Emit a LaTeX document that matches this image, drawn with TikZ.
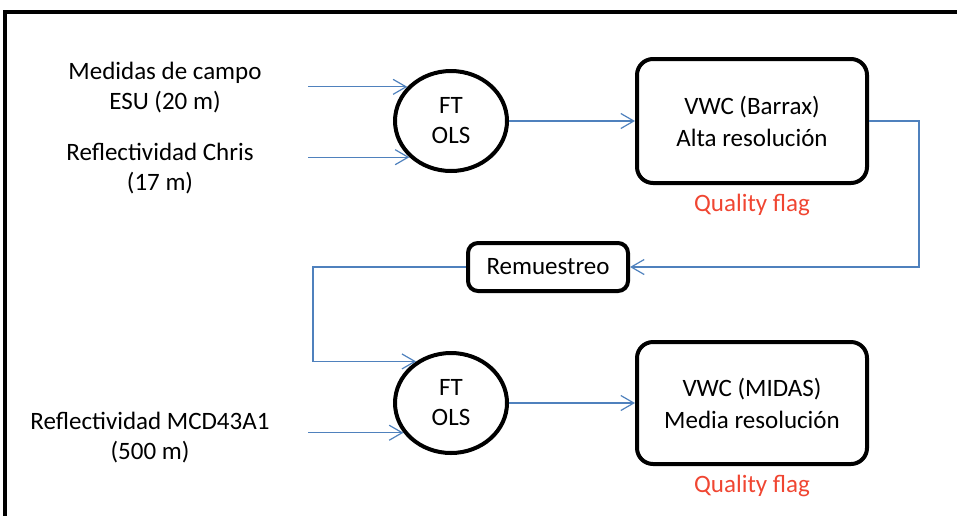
\documentclass[tikz,border=0pt]{standalone}
\usepackage{fontspec}
\setmainfont{Carlito}
\usetikzlibrary{shapes.geometric,arrows.meta,positioning}

\definecolor{lineBlue}{RGB}{79,129,189}
\definecolor{flagRed}{RGB}{240,70,50}

\begin{document}
\begin{tikzpicture}[
    x=0.5pt, y=-0.5pt,
    % Define the style for the text sources on the left
    srcText/.style={
        align=center,
        font=\fontsize{12.5}{15}\selectfont
    },
    % Define the style for the fitting ellipses
    fitNode/.style={
        ellipse,
        draw=black,
        line width=2pt,
        minimum width=56pt,
        minimum height=50pt,
        inner sep=0pt,
        align=center,
        font=\fontsize{12.5}{15}\selectfont
    },
    % Define the style for the product boxes
    prodBox/.style={
        rectangle,
        rounded corners=8pt,
        draw=black,
        line width=2pt,
        minimum width=115pt,
        align=center,
        font=\fontsize{12.5}{16}\selectfont
    },
    % Define the style for the red labels
    flagLabel/.style={
        text=flagRed,
        font=\fontsize{12.5}{15}\selectfont
    },
    % Define the style for the connections
    conn/.style={
        draw=lineBlue,
        line width=0.6pt,
        -{Straight Barb[length=6.5pt,width=7.5pt]}
    }
]

    % --- FRAME ---
    \useasboundingbox (0,0) rectangle (957,515);
    \draw[line width=2.3pt] (5,530) -- (5,12) -- (970,12);

    % --- COORDINATE DEFINITIONS ---
    \coordinate (inX) at (308,0);
    \coordinate (bendX) at (313,0);

    % --- NODES ---
    % Inputs
    \node[srcText] (campo) at (165,88) {Medidas de campo\\ESU (20 m)};
    \node[srcText] (chris) at (160,169) {Reflectividad Chris\\(17 m)};
    \node[srcText] (modis) at (150,438) {Reflectividad MCD43A1\\(500 m)};

    % Fitting steps
    \node[fitNode] (fit1) at (451,121) {FT\\OLS};
    \node[fitNode] (fit2) at (451,403) {FT\\OLS};

    % Products
    \node[prodBox, minimum height=62pt] (barrax) at (752,121) {VWC (Barrax)\\Alta resolución};
    \node[prodBox, minimum height=61pt] (midas) at (752,403) {VWC (MIDAS)\\Media resolución};
    \node[flagLabel, below=1pt of barrax] (flag1) {Quality flag};
    \node[flagLabel, below=1pt of midas] (flag2) {Quality flag};

    % Resampling
    \node[prodBox, rounded corners=5pt, minimum width=80pt, minimum height=24pt,
          font=\fontsize{12.5}{15}\selectfont] (resamp) at (548,267) {Remuestreo};

    % --- EDGES ---
    % Top inputs
    \draw[conn] (fit1.142 -| inX) -- (fit1.142);
    \draw[conn] (fit1.221 -| inX) -- (fit1.221);

    % High resolution product
    \draw[conn] (fit1.east) -- (barrax.west);

    % Loop back through the resampling
    \draw[conn] (barrax.east) -- ++(50,0) |- (resamp.east);
    \draw[conn] (resamp.west) -- (resamp.west -| bendX) |- (fit2.130);

    % Bottom input
    \draw[conn] (fit2.212 -| inX) -- (fit2.212);

    % Medium resolution product
    \draw[conn] (fit2.east) -- (midas.west);

\end{tikzpicture}
\end{document}
